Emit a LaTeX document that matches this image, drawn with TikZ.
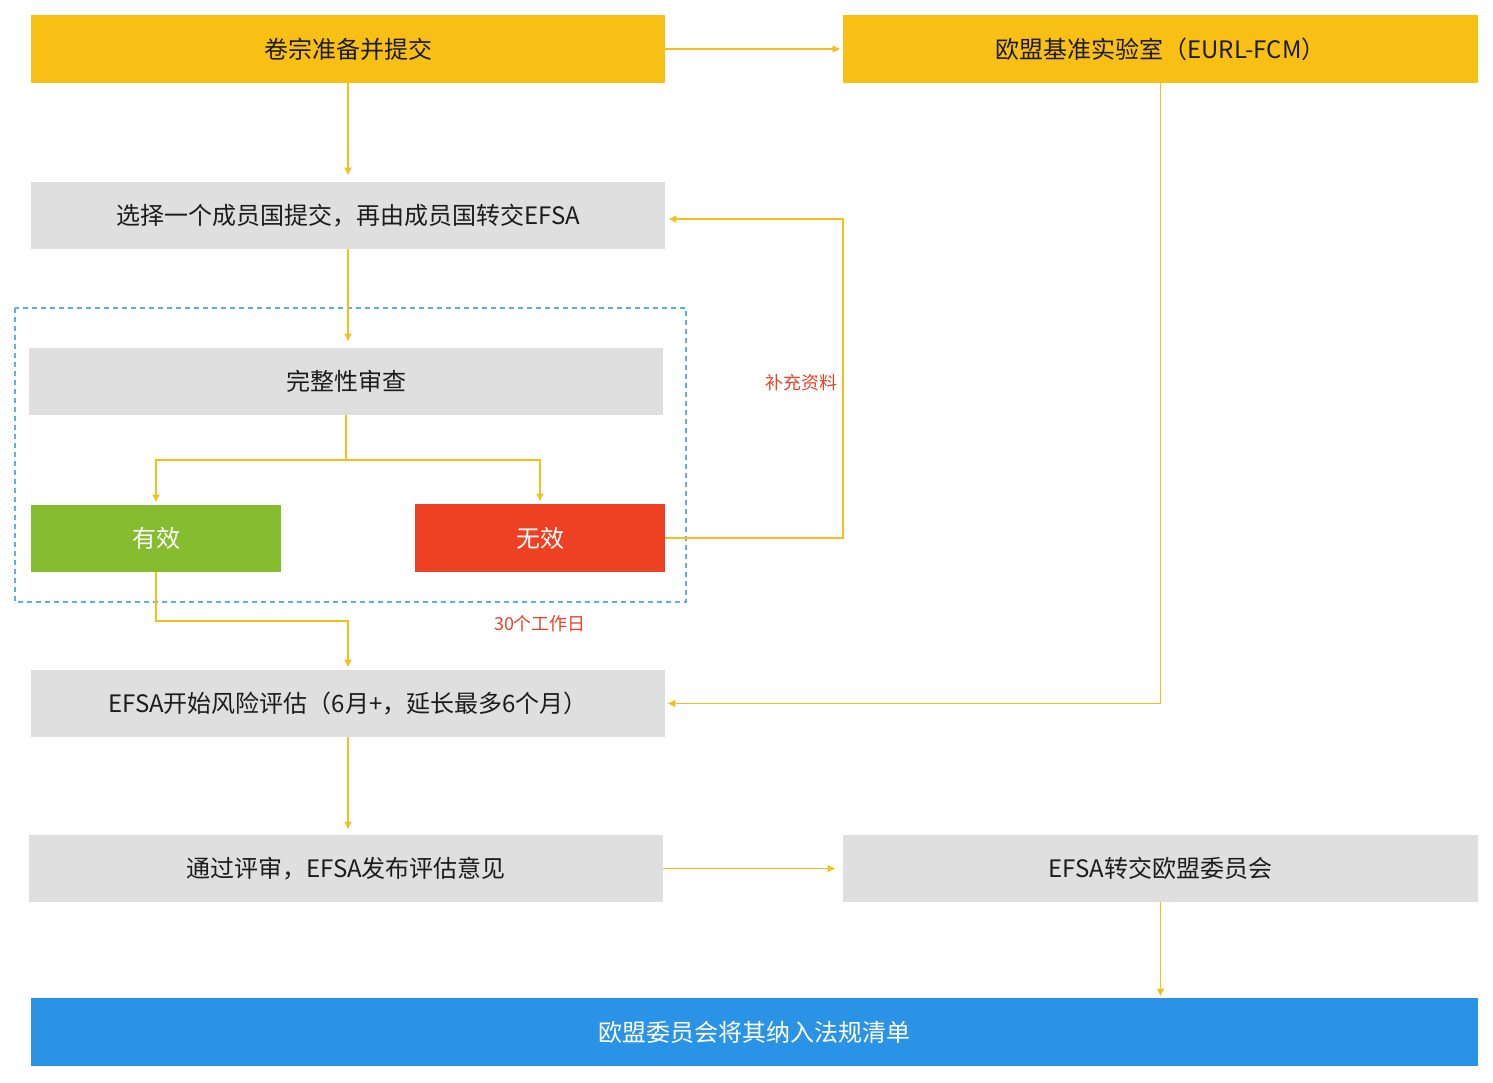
\documentclass[tikz,border=0pt]{standalone}
\usepackage{fontspec}
\setmainfont{Noto Sans CJK SC}
\usetikzlibrary{arrows.meta}
\definecolor{cyel}{HTML}{F8BF14}
\definecolor{cgray}{HTML}{DFDFDF}
\definecolor{cgreen}{HTML}{86BC2F}
\definecolor{cred}{HTML}{EE4123}
\definecolor{cblue}{HTML}{2B93E6}
\definecolor{carrow}{HTML}{F7BD1A}
\definecolor{cdash}{HTML}{5AAEEA}
\definecolor{ctext}{HTML}{1C1C1C}
\definecolor{clabel}{HTML}{E8432A}
\tikzset{
  box/.style={inner sep=0pt, minimum width=317pt, minimum height=33.5pt, font=\fontsize{12}{14}\selectfont, text=ctext},
  ybox/.style={box, fill=cyel},
  gbox/.style={box, fill=cgray},
  sbox/.style={box, minimum width=125pt, text=white},
  conn/.style={draw=carrow, line width=0.75pt, -{Latex[length=4pt,width=4pt]}},
  lbl/.style={text=clabel, font=\fontsize{9}{11}\selectfont, inner sep=0pt}
}
\begin{document}
\begin{tikzpicture}[x=0.5pt,y=-0.5pt]
\useasboundingbox[fill=white] (0,0) rectangle (1493,1082);
% dashed group
\draw[cdash, line width=0.7pt, dash pattern=on 2.5pt off 2pt] (15,308) rectangle (686,602);
% boxes
\node[ybox, minimum height=34pt] (prep) at (348,49) {卷宗准备并提交};
\node[ybox, minimum height=34pt, minimum width=317.5pt] (eurl) at (1160.5,49) {欧盟基准实验室（EURL-FCM）};
\node[gbox] (member) at (348,215.5) {选择一个成员国提交，再由成员国转交EFSA};
\node[gbox] (check) at (346,381.5) {完整性审查};
\node[sbox, fill=cgreen] (valid) at (156,538.5) {有效};
\node[sbox, fill=cred, minimum height=34pt] (invalid) at (540,538) {无效};
\node[gbox] (risk) at (348,703.5) {EFSA开始风险评估（6月+，延长最多6个月）};
\node[gbox] (review) at (346,868.5) {通过评审，EFSA发布评估意见};
\node[gbox, minimum width=317.5pt] (transfer) at (1160.5,868.5) {EFSA转交欧盟委员会};
\node[box, fill=cblue, text=white, minimum width=723.5pt, minimum height=34pt] (final) at (754.5,1032) {欧盟委员会将其纳入法规清单};
% helper coordinates
\coordinate (split) at (346,460);
\coordinate (fbk) at (843,538);
\coordinate (fbtop) at (843,219);
\coordinate (join) at (156,621);
% connectors
\draw[conn, shorten >=1pt] (prep.east) -- (eurl.west);
\draw[conn, shorten >=3pt] (prep.south) -- (prep.south |- member.north);
\draw[conn, shorten >=3pt] (member.south) -- (member.south |- check.north);
\draw[draw=carrow, line width=0.75pt] (check.south) -- (split);
\draw[conn, shorten >=1pt] (split) -| (valid.north);
\draw[conn, shorten >=1pt] (split) -| (invalid.north);
\draw[conn, shorten >=1.5pt] (invalid.east) -- (fbk) -- (fbtop) -- (fbtop -| member.east);
\draw[conn, shorten >=1pt] (valid.south) -- (join) -| (risk.north);
\draw[conn, shorten >=1pt] (eurl.south) |- (risk.east);
\draw[conn, shorten >=2.5pt] (risk.south) -- (risk.south |- review.north);
\draw[conn, shorten >=3.5pt] (review.east) -- (review.east -| transfer.west);
\draw[conn, shorten >=0.5pt] (transfer.south) -- (transfer.south |- final.north);
% labels
\node[lbl, anchor=east] (lblsupp) at (838,383) {补充资料};
\node[lbl] (lbldays) at (540,624) {30个工作日};
\end{tikzpicture}
\end{document}
